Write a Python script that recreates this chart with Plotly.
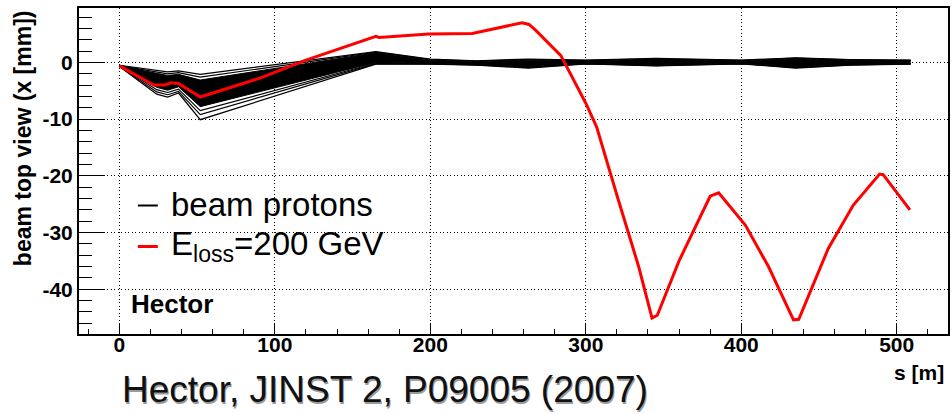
import plotly.graph_objects as go

# ---------------- data ----------------
# red trajectory: proton with E_loss = 200 GeV
s_red = [0, 22, 29, 33, 38, 52, 90, 120, 165, 167, 199, 227, 259, 263.5, 268,
         280, 284, 300, 307, 321, 334, 342.6, 346, 360, 380, 385.5, 402.6,
         417.5, 433.6, 437, 456, 472, 489, 491.3, 508.5]
x_red = [-0.6, -4.0, -4.0, -3.6, -3.7, -6.1, -2.8, 0.4, 4.6, 4.4, 5.0, 5.1, 7.0,
         6.7, 5.6, 2.2, 1.2, -7.2, -11.4, -24.3, -36.0, -45.1, -44.6, -35.0,
         -23.6, -23.0, -28.7, -36.0, -45.4, -45.3, -32.8, -25.2, -19.7, -19.8,
         -26.0]

# beam proton trajectories (envelope lines and core of the bundle)
s_beam = [0, 24, 31, 38, 52, 165, 200, 230, 263, 300, 345, 400, 435, 470, 509]
beam_top1 = [-0.5, -1.3, -1.65, -1.5, -2.1, 1.9, 0.6, 0.3, 0.6, 0.4, 0.7, 0.4, 0.8, 0.5, 0.4]
beam_top2 = [-0.55, -1.6, -2.0, -1.8, -2.6, 1.8, 0.5, 0.25, 0.5, 0.35, 0.65, 0.35, 0.75, 0.45, 0.35]
beam_core_top = [-0.6, -1.9, -2.3, -2.1, -3.1, 1.7, 0.4, 0.15, 0.4, 0.3, 0.55, 0.3, 0.65, 0.4, 0.3]
beam_core_bot = [-0.65, -4.4, -4.9, -4.3, -7.8, 0.0, -0.15, -0.35, -0.7, -0.15, -0.45, -0.15, -0.75, -0.35, -0.2]
beam_bot1 = [-0.65, -4.8, -5.3, -4.7, -8.5, -0.1, -0.2, -0.4, -0.8, -0.2, -0.5, -0.2, -0.85, -0.4, -0.25]
beam_bot2 = [-0.7, -5.2, -5.7, -5.1, -9.2, -0.2, -0.25, -0.45, -0.9, -0.2, -0.55, -0.2, -0.9, -0.45, -0.25]
beam_bot3 = [-0.7, -5.6, -6.1, -5.4, -10.1, -0.3, -0.3, -0.5, -1.0, -0.25, -0.6, -0.25, -1.0, -0.5, -0.3]

x_ticks = [0, 100, 200, 300, 400, 500]
y_ticks = [-40, -30, -20, -10, 0]
x_range = [-26, 533]
y_range = [-47.9, 9.6]

legend_labels = ["beam protons", "E<sub>loss</sub>=200 GeV"]
y_title = "beam top view (x [mm])"
x_title = "s [m]"
tag_text = "Hector"
cite_text = "Hector, JINST 2, P09005 (2007)"

FONT = "Liberation Sans, Arial, Helvetica, sans-serif"

fig = go.Figure()

# core of the beam bundle (solid black)
fig.add_trace(go.Scatter(x=s_beam, y=beam_core_top, mode="lines",
                         line=dict(color="black", width=1), showlegend=False,
                         hoverinfo="skip"))
fig.add_trace(go.Scatter(x=s_beam, y=beam_core_bot, mode="lines", fill="tonexty",
                         fillcolor="black", line=dict(color="black", width=1),
                         showlegend=False, hoverinfo="skip"))
for ys in [beam_top1, beam_top2, beam_bot1, beam_bot2, beam_bot3]:
    fig.add_trace(go.Scatter(x=s_beam, y=ys, mode="lines",
                             line=dict(color="black", width=1.2),
                             showlegend=False, hoverinfo="skip"))

fig.add_trace(go.Scatter(x=s_red, y=x_red, mode="lines", name="E_loss=200 GeV",
                         line=dict(color="#ff0000", width=3), showlegend=False))

# plot area geometry in pixels
L, R, T, B = 79, 950, 8, 334
W, H = 952, 414


def px(xp):
    return (xp - L) / (R - L)


def py(yp):
    return (B - yp) / (B - T)


annotations = []
shapes = []

# legend (drawn by hand, like the ROOT TLegend)
for i, (lab, col, ymid) in enumerate([(legend_labels[0], "black", 204.5),
                                       (legend_labels[1], "#ff0000", 245.5)]):
    shapes.append(dict(type="line", xref="paper", yref="paper",
                       x0=px(138), x1=px(158), y0=py(ymid + 1), y1=py(ymid + 1),
                       line=dict(color=col, width=2 if i == 0 else 3)))
    annotations.append(dict(text=lab, xref="paper", yref="paper", x=px(169),
                            y=py(ymid), xanchor="left", yanchor="middle",
                            showarrow=False,
                            font=dict(family=FONT, size=33, color="black")))

annotations.append(dict(text=tag_text, xref="paper", yref="paper", x=px(129),
                        y=py(304), xanchor="left", yanchor="middle",
                        showarrow=False,
                        font=dict(family=FONT, size=26, color="black", weight="bold")))

# y axis title (rotated, aligned to top)
annotations.append(dict(text=y_title, xref="paper", yref="paper", x=px(23), y=1.0,
                        xanchor="center", yanchor="top", textangle=-90,
                        showarrow=False,
                        font=dict(family=FONT, size=23, color="black", weight="bold")))
# x axis title
annotations.append(dict(text=x_title, xref="paper", yref="paper", x=px(948),
                        y=py(372), xanchor="right", yanchor="middle",
                        showarrow=False,
                        font=dict(family=FONT, size=21, color="black", weight="bold")))
# citation with shadow
annotations.append(dict(text=cite_text, xref="paper", yref="paper", x=px(120),
                        y=py(390), xanchor="left", yanchor="middle", xshift=1.5,
                        yshift=-1.5, showarrow=False,
                        font=dict(family=FONT, size=37, color="#9a9a9a")))
annotations.append(dict(text=cite_text, xref="paper", yref="paper", x=px(120),
                        y=py(390), xanchor="left", yanchor="middle",
                        showarrow=False,
                        font=dict(family=FONT, size=37, color="#111111")))

fig.update_layout(
    width=W, height=H,
    margin=dict(l=L, r=W - R, t=T, b=H - B, pad=0),
    plot_bgcolor="white", paper_bgcolor="white",
    showlegend=False,
    annotations=annotations, shapes=shapes,
    font=dict(family=FONT, color="black"),
)

fig.update_xaxes(range=x_range, tickvals=x_ticks, ticktext=[str(v) for v in x_ticks],
                 ticks="inside", ticklen=10, tickwidth=1.3, tickcolor="black",
                 ticklabelstandoff=-9,
                 showline=True, linecolor="black", linewidth=2, mirror=True,
                 showgrid=True, gridcolor="black", gridwidth=1.3, griddash="1.3px,2.2px",
                 zeroline=False,
                 minor=dict(dtick=20, tick0=0, ticks="inside", ticklen=5,
                            tickwidth=1.2, tickcolor="black", showgrid=False),
                 tickfont=dict(family=FONT, size=21, color="black", weight="bold"))
fig.update_yaxes(range=y_range, tickvals=y_ticks, ticktext=[str(v) for v in y_ticks],
                 ticks="inside", ticklen=26, tickwidth=1.3, tickcolor="black",
                 showline=True, linecolor="black", linewidth=2, mirror=True,
                 showgrid=True, gridcolor="black", gridwidth=1.3, griddash="1.3px,2.2px",
                 zeroline=False,
                 minor=dict(dtick=2, tick0=0, ticks="inside", ticklen=13,
                            tickwidth=1.2, tickcolor="black", showgrid=False),
                 tickfont=dict(family=FONT, size=21, color="black", weight="bold"))

fig.write_html("out.html")
